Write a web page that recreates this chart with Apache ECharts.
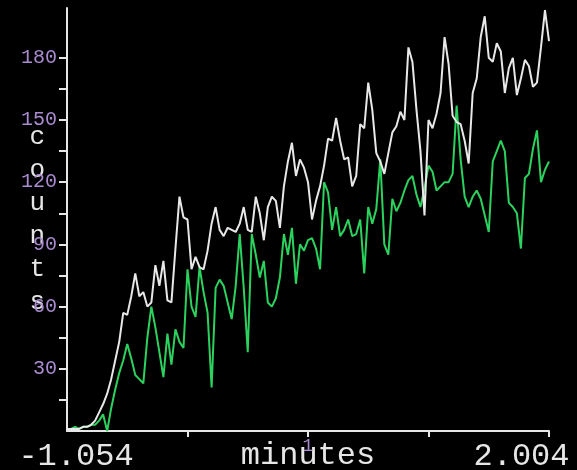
<!DOCTYPE html>
<html>
<head>
<meta charset="utf-8">
<script src="https://cdn.jsdelivr.net/npm/echarts@6/dist/echarts.min.js"></script>
<style>
  html, body { margin: 0; padding: 0; background: #000; }
  #chart { width: 577px; height: 470px; }
</style>
</head>
<body>
<div id="chart"></div>
<script>
// counts per sample, 121 samples from -1.054 to 2.004 minutes
const whiteCounts = [
  1, 1, 1, 1, 2, 2, 3, 5, 9, 13,
  18, 25, 34, 43, 57, 56, 65, 76, 65, 67,
  60, 62, 80, 70, 82, 63, 62, 88, 113, 103,
  102, 78, 84, 79, 78, 87, 100, 108, 97, 94,
  98, 97, 96, 100, 108, 97, 96, 113, 105, 92,
  108, 113, 111, 98, 118, 130, 139, 123, 131, 127,
  120, 102, 111, 118, 128, 141, 140, 151, 140, 131,
  132, 118, 123, 148, 146, 168, 155, 134, 130, 124,
  134, 144, 147, 154, 150, 185, 178, 155, 135, 104,
  150, 146, 153, 163, 190, 177, 152, 149, 148, 140,
  129, 163, 170, 190, 200, 180, 178, 187, 183, 163,
  175, 180, 162, 170, 179, 176, 166, 168, 185, 203,
  188
]
const greenCounts = [
  1, 1, 2, 1, 2, 2, 3, 3, 5, 8,
  0, 11, 20, 28, 34, 42, 35, 27, 25, 23,
  45, 60, 50, 38, 26, 47, 32, 49, 43, 40,
  78, 60, 55, 79, 67, 57, 21, 69, 73, 70,
  62, 54, 70, 95, 69, 38, 95, 85, 74, 82,
  62, 60, 64, 74, 95, 85, 98, 71, 90, 87,
  92, 93, 88, 78, 120, 115, 97, 108, 94, 97,
  102, 94, 95, 102, 76, 108, 100, 107, 131, 90,
  85, 112, 106, 110, 116, 121, 123, 114, 108, 117,
  128, 125, 116, 118, 120, 120, 124, 157, 131, 113,
  108, 113, 116, 112, 104, 96, 130, 135, 140, 135,
  110, 108, 105, 88, 122, 124, 136, 145, 120, 126,
  130
]
const xTickValues = [30, 60, 90, 120]
const xTickLabels = { 0: '-1.054', 60: '1', 120: '2.004' }
const yTickValues = [15, 30, 45, 60, 75, 90, 105, 120, 135, 150, 165, 180]
const yLabelValues = [30, 60, 90, 120, 150, 180]

const mono = "'Liberation Mono', 'DejaVu Sans Mono', monospace"
const purple = '#a98bd0'

const chart = echarts.init(document.getElementById('chart'))
chart.setOption({
  backgroundColor: '#000',
  animation: false,
  grid: { left: 67, right: 28, top: 8, bottom: 39, outerBoundsMode: 'none' },
  xAxis: {
    type: 'value',
    min: 0,
    max: 120,
    name: 'minutes',
    nameLocation: 'middle',
    nameGap: 9,
    nameMoveOverlap: false,
    nameTextStyle: { color: '#e6e6e6', fontSize: 32, fontFamily: mono },
    splitLine: { show: false },
    axisLine: { lineStyle: { color: '#e6e6e6', width: 2 } },
    axisTick: { customValues: xTickValues, length: 6, lineStyle: { color: '#e6e6e6', width: 2 } },
    axisLabel: {
      customValues: [0, 60, 120],
      showMinLabel: true,
      showMaxLabel: true,
      margin: 6,
      formatter: function (v) {
        if (v === 60) return '{m|' + xTickLabels[v] + '}'
        if (v === 0) return '{l|' + xTickLabels[v] + '}'
        return '{r|' + xTickLabels[v] + '}'
      },
      rich: {
        m: { color: purple, fontSize: 18, fontFamily: mono },
        l: { color: '#e6e6e6', fontSize: 32, fontFamily: mono, padding: [4, 0, 0, 18] },
        r: { color: '#e6e6e6', fontSize: 32, fontFamily: mono, padding: [4, 55, 0, 0] }
      }
    }
  },
  yAxis: {
    type: 'value',
    min: 0,
    max: 204,
    name: 'c\no\nu\nn\nt\ns',
    nameLocation: 'middle',
    nameRotate: 0,
    nameGap: 22,
    nameMoveOverlap: false,
    nameTextStyle: { color: '#e6e6e6', fontSize: 26, lineHeight: 33, fontFamily: mono, padding: [18, 0, 0, 0] },
    splitLine: { show: false },
    axisLine: { show: true, lineStyle: { color: '#e6e6e6', width: 2 } },
    axisTick: { customValues: yTickValues, length: 8, lineStyle: { color: '#e6e6e6', width: 2 } },
    axisLabel: {
      customValues: yLabelValues,
      margin: 10,
      color: purple,
      fontSize: 20,
      fontFamily: mono
    }
  },
  series: [
    {
      name: 'green',
      type: 'line',
      symbol: 'none',
      data: greenCounts.map((v, i) => [i, v]),
      lineStyle: { color: '#2bd35e', width: 2 }
    },
    {
      name: 'white',
      type: 'line',
      symbol: 'none',
      data: whiteCounts.map((v, i) => [i, v]),
      lineStyle: { color: '#e8e8e8', width: 2 }
    }
  ]
})
</script>
</body>
</html>
